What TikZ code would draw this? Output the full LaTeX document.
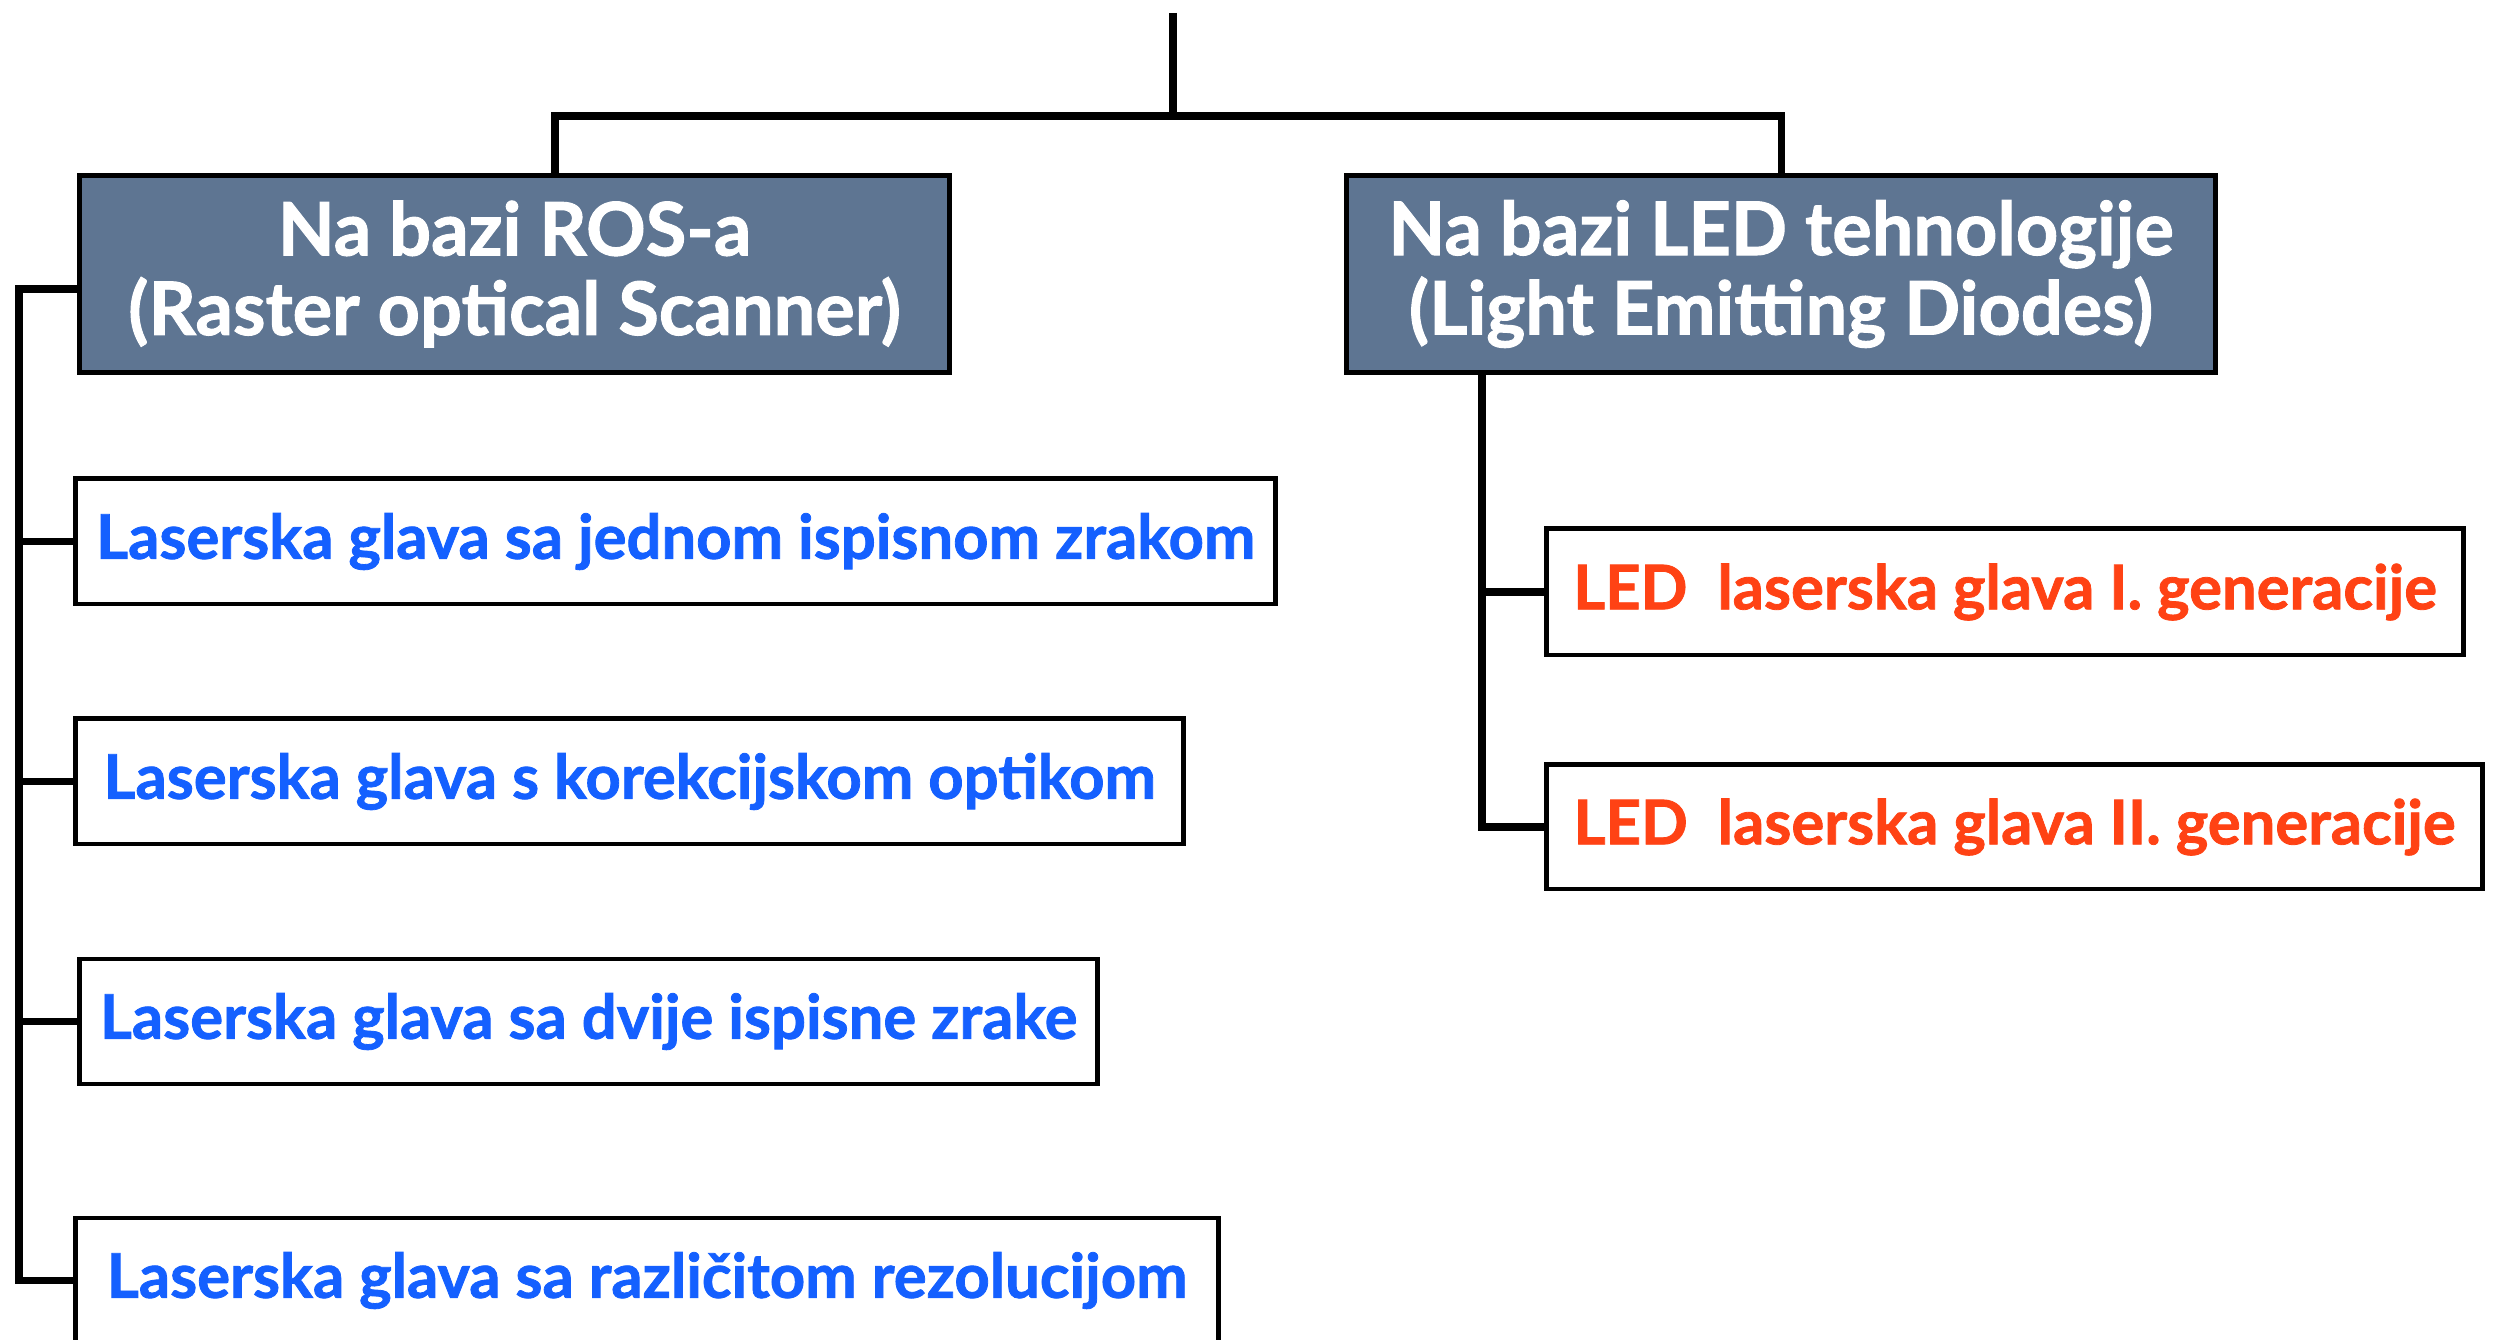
\documentclass[tikz,border=0pt]{standalone}
\usepackage{fontspec}
\setmainfont{Lato}[BoldFeatures={FakeBold=1.3}]
\usetikzlibrary{positioning,calc}

\definecolor{slate}{RGB}{94,117,146}
\definecolor{itemblue}{RGB}{20,96,255}
\definecolor{itemred}{RGB}{255,66,20}

\begin{document}
\begin{tikzpicture}[
    x=0.01cm, y=-0.01cm,
    line join=miter,
    header/.style={draw=black, line width=1.4pt, fill=slate, text=white,
        inner sep=0pt, align=center, font=\fontsize{21}{22.6}\bfseries},
    item/.style={draw=black, line width=1.4pt, fill=white, inner sep=0pt,
        minimum height=1.25cm, font=\fontsize{17.5}{20}\bfseries},
    link/.style={line width=2pt}
]

\useasboundingbox (0,0) rectangle (2493,1340);

% Header boxes
\node[header, minimum width=8.69cm, minimum height=1.96cm] (ros) at (514.5,274)
    {Na bazi ROS-a\\(Raster optical Scanner)};
\node[header, minimum width=8.68cm, minimum height=1.96cm] (led) at (1781,274)
    {Na bazi LED tehnologije\\(Light Emitting Diodes)};

% ROS variants
\node[item, text=itemblue, minimum width=11.99cm] (s1) at (675.5,541.5)
    {Laserska glava sa jednom ispisnom zrakom};
\node[item, text=itemblue, minimum width=11.07cm] (s2) at (629.5,781.5)
    {Laserska glava s korekcijskom optikom};
\node[item, text=itemblue, minimum width=10.17cm] (s3) at (588.5,1021.5)
    {Laserska glava sa dvije ispisne zrake};
\node[item, text=itemblue, minimum width=11.42cm] (s4) at (647,1280.5)
    {Laserska glava sa različitom rezolucijom};

% LED variants
\node[item, text=itemred, minimum width=9.16cm, minimum height=1.26cm] (r1) at (2005,592)
    {LED\ \ laserska glava I. generacije};
\node[item, text=itemred, minimum width=9.35cm, minimum height=1.24cm] (r2) at (2014.5,827)
    {LED\ \ laserska glava II. generacije};

% Top split
\coordinate (top) at (1173,13);
\coordinate (bar) at (1173,116);
\coordinate (rosTop) at ($(ros.north)+(40.5,0)$);
\draw[link] (top) -- (bar);
\draw[link] (rosTop) |- (bar) -| (led.north);

% Left bracket
\coordinate (rosSide) at ($(ros.west)+(0,15)$);
\coordinate (spine) at (19,0);
\draw[link] (rosSide) -- (rosSide -| spine) |- (s4.west);
\foreach \n in {s1,s2,s3}
    \draw[link] (\n.west) -- (\n.west -| spine);

% Right bracket
\coordinate (ledDrop) at ($(led.south)+(-299,0)$);
\draw[link] (ledDrop) |- (r2.west);
\draw[link] (r1.west) -- (r1.west -| ledDrop);

\end{tikzpicture}
\end{document}
